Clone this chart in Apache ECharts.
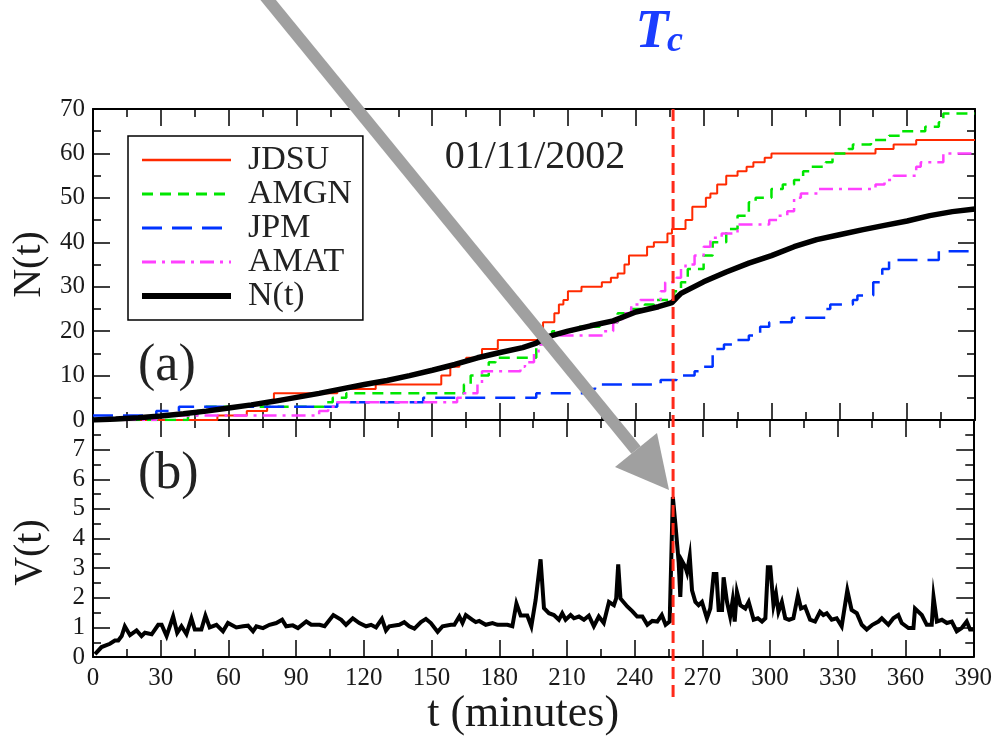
<!DOCTYPE html>
<html><head><meta charset="utf-8">
<script src="https://cdn.jsdelivr.net/npm/echarts@6/dist/echarts.min.js"></script>
<style>html,body{margin:0;padding:0;background:#fff}#c{width:995px;height:737px}</style>
</head><body><div id="c"></div>
<script>
const SERIF = "'Liberation Serif','Times New Roman',serif";

// ---- data ----
const T_TICKS = { min: 0, max: 390, interval: 30 };
const TC = 256.5; // critical time (minutes)
const DATE_LABEL = '01/11/2002';

const JDSU = [[0,0],[55,1],[68,2],[77,4],[80,6],[108,7],[125,8],[154,10],[158,12],[162,13],[165,14],[172,16],[179,18],[197,20],[199,22],[204,24],[206,26],[208,27],[210,29],[216,30],[225,31],[229,32],[232,33],[235,35],[237,37],[245,39],[248,40],[254,42],[256,43],[262,45],[265,48],[271,50],[273,51],[276,53],[280,55],[285,56],[289,57],[292,58],[297,59],[300,60],[346,61],[354,62],[364,63],[390,63]];

const AMGN = [[0,0],[42,1],[46,2],[49,3],[102,4],[106,5],[112,6],[164,8],[167,10],[175,13],[178,14],[196,17],[198,19],[203,20],[215,21],[224,22],[232,24],[236,25],[244,26],[248,27],[257,29],[260,31],[263,34],[270,37],[274,40],[280,43],[285,46],[290,49],[293,50],[300,52],[305,53],[310,54],[314,56],[317,57],[324,58],[327,60],[334,61],[336,62],[344,63],[352,64],[357,65],[368,66],[374,67],[376,69],[390,69]];

const JPM = [[0,1],[28,2],[38,3],[108,4],[146,5],[196,6],[218,7],[222,8],[251,9],[258,10],[266,11],[270,12],[274,16],[279,17],[284,18],[290,19],[295,21],[299,22],[309,23],[324,25],[326,26],[336,27],[338,28],[345,31],[349,34],[352,36],[374,38],[390,38]];

const AMAT = [[0,0],[28,1],[100,2],[104,3],[108,4],[161,5],[164,6],[170,8],[172,11],[189,12],[191,13],[195,15],[197,17],[199,19],[226,20],[230,22],[234,24],[238,26],[242,27],[251,29],[253,31],[258,32],[260,34],[262,35],[266,37],[270,39],[273,41],[278,42],[285,44],[299,45],[303,46],[307,47],[310,50],[313,51],[321,52],[346,53],[350,54],[354,55],[364,57],[366,58],[376,60],[390,60]];

const NT = [[0,0],[10,0.2],[20,0.5],[30,0.9],[40,1.4],[50,2.0],[60,2.7],[70,3.4],[80,4.2],[90,5.1],[100,6.0],[110,7.0],[120,8.0],[130,8.9],[140,10.0],[150,11.2],[160,12.5],[170,14.0],[180,15.2],[190,16.3],[196,17.3],[200,18.6],[210,20.0],[220,21.2],[230,22.3],[240,24.3],[250,25.5],[256,26.4],[258,27.5],[260,28.5],[270,31.1],[280,33.3],[290,35.3],[300,37.0],[310,39.0],[320,40.6],[330,41.7],[340,42.8],[350,43.8],[360,44.8],[370,46.0],[380,46.9],[390,47.5]];

const VT = [[0.9,0.1],[3.8,0.34],[7.5,0.45],[9.7,0.56],[11.2,0.56],[12.7,0.71],[14.1,1.04],[16.4,0.74],[19.3,0.9],[21.5,0.71],[23,0.82],[26,0.77],[28.9,1.09],[30.4,1.09],[32.6,0.71],[35.5,1.37],[37.3,0.82],[39.2,1.04],[41.4,0.78],[43.6,1.31],[45.1,0.93],[48,0.93],[49.8,1.4],[51.7,1.0],[54.7,1.09],[57.6,0.87],[59.8,1.15],[63.5,1.0],[66.5,1.04],[68.7,1.06],[70.9,0.87],[72.4,1.04],[75.3,0.98],[78.2,1.09],[81.2,1.15],[83.8,1.26],[85.6,1.04],[88.5,1.07],[90.8,0.98],[94.5,1.2],[96.7,1.09],[100.4,1.09],[102.6,1.04],[106.5,1.42],[110,1.26],[112.1,1.09],[115.1,1.31],[118,1.15],[121,1.04],[123.2,1.09],[125.4,1.0],[128,1.29],[129.8,0.9],[131.3,1.04],
[132,1.09],[135.7,1.09],[137.9,1.18],[140.1,1.04],[142.4,0.96],[145.3,1.18],[147.5,1.29],[149.7,1.15],[152.7,0.85],[154.9,1.04],[158.6,1.09],[160.1,1.09],[162.3,1.37],[163.7,1.15],[165.2,1.42],[168.1,1.26],[169.6,1.18],[171.1,1.22],[174,1.09],[177,1.15],[179.2,1.09],[181.4,1.09],[183.6,1.09],[185.8,1.04],[187.6,1.81],[189.5,1.4],[192.4,1.4],[194.2,1.04],[196.1,1.92],[198.3,3.3],[199.8,1.65],[202,1.48],[204.2,1.42],[206.4,1.26],[207.9,1.48],[209.4,1.26],[211.6,1.42],[213.1,1.31],[215.3,1.37],[217.5,1.26],[219.7,1.4],[221.9,1.04],[224.1,1.37],[226.3,1.15],[228.6,1.86],[230.8,1.75],[231.8,1.98],[232.7,3.13],[233.7,1.98],[236.7,1.71],[238.9,1.55],[241.1,1.37],[243.4,1.37],[245.6,1.09],[247.8,1.22],[250,1.2],[252,1.42],[253.7,1.09],[255.5,1.2],
[256.9,5.4],[258,4.51],[259.5,3.19],[260.2,2.03],[260.9,3.25],[262.5,3.03],[263.2,2.86],[264.4,3.4],[265.4,2.25],[266.9,1.86],[268.3,1.75],[269.8,1.86],[272,1.31],[273.5,1.64],[275,2.8],[276.2,2.8],[277.2,1.59],[278.7,1.59],[279.4,2.69],[280.9,1.86],[282.3,1.37],[283.4,1.92],[284.3,1.2],[285.3,2.2],[286.8,1.75],[289,1.64],[290.5,1.86],[292.7,1.26],[294.6,1.31],[296.4,1.2],[297.9,1.31],[299,3.03],[300.1,3.03],[301.5,1.75],[302.6,2.14],[303.7,1.53],[305.2,1.86],[306.7,1.31],[308.4,1.26],[310.3,1.31],[312.3,2.08],[313.7,1.64],[315.5,1.7],[317.7,1.26],[319.9,1.2],[322.1,1.53],[323.6,1.42],[325.1,1.48],[327.3,1.26],[329.5,1.31],[331.7,1.04],[334.2,2.25],[336.1,1.59],[338.4,1.48],[340.6,1.09],[342.8,0.93],[345.3,1.09],[348,1.2],[349.5,1.31],[352.4,1.09],[354.6,1.31],[356.8,1.42],[358.3,1.15],[361.3,0.98],[363.5,0.98],[364.2,1.64],[367.2,1.42],[369.4,1.09],[371.6,1.09],[372.4,2.03],[373.9,1.2],[376.1,1.26],[378.3,1.15],[380.5,1.2],[382.7,0.87],[384.9,0.98],[387.1,1.2],[388.6,0.93],[390,0.93]];

// ---- chart ----
const chart = echarts.init(document.getElementById('c'), null, { renderer: 'canvas' });
const LBL = { fontFamily: SERIF, fontSize: 25, color: '#1a1a1a' };
const tick = { show: true, inside: true, length: 17, lineStyle: { color: '#000', width: 1.5 } };
const minor = { show: true, splitNumber: 2, length: 8, lineStyle: { color: '#000', width: 1.5 } };
const aline = { show: true, onZero: false, lineStyle: { color: '#000', width: 2 } };

function xAx(grid, pos, labels, extra) {
  return Object.assign({
    type: 'value', gridIndex: grid, position: pos, min: T_TICKS.min, max: T_TICKS.max, interval: T_TICKS.interval,
    axisLine: aline, axisTick: tick, minorTick: minor, splitLine: { show: false },
    axisLabel: Object.assign({ show: labels, margin: 9 }, LBL)
  }, extra || {});
}
function yAx(grid, pos, labels, max, interval, extra) {
  return Object.assign({
    type: 'value', gridIndex: grid, position: pos, min: 0, max: max, interval: interval,
    axisLine: aline, axisTick: tick, minorTick: minor, splitLine: { show: false },
    axisLabel: Object.assign({ show: labels, margin: 8 }, LBL)
  }, extra || {});
}

const option = {
  animation: false,
  backgroundColor: '#fff',
  grid: [
    { left: 93, top: 109, width: 882, height: 311 },
    { left: 93, top: 420, width: 882, height: 243 }
  ],
  xAxis: [
    xAx(0, 'bottom', false),
    xAx(0, 'top', false),
    xAx(1, 'bottom', true, {
      name: 't (minutes)', nameLocation: 'middle', nameGap: 30,
      nameTextStyle: { fontFamily: SERIF, fontSize: 44, color: '#1a1a1a', padding: [0, 20, 0, 0] }
    }),
    xAx(1, 'top', false)
  ],
  yAxis: [
    yAx(0, 'left', true, 70, 10, {
      name: 'N(t)', nameLocation: 'middle', nameGap: 43, nameRotate: 90,
      nameTextStyle: { fontFamily: SERIF, fontSize: 40, color: '#1a1a1a' }
    }),
    yAx(0, 'right', false, 70, 10),
    yAx(1, 'left', true, 8, 1, {
      name: 'V(t)', nameLocation: 'middle', nameGap: 43, nameRotate: 90,
      nameTextStyle: { fontFamily: SERIF, fontSize: 40, color: '#1a1a1a', padding: [0, 28, 0, 0] },
      axisLabel: Object.assign({ show: true, margin: 8, formatter: v => (v === 8 ? '' : String(v)) }, LBL)
    }),
    yAx(1, 'right', false, 8, 1)
  ],
  legend: {
    orient: 'vertical', left: 128, top: 136,
    padding: [7, 11, 7, 11], borderColor: '#000', borderWidth: 1.5,
    itemWidth: 89, itemHeight: 14, itemGap: 0,
    itemStyle: { opacity: 0 },
    textStyle: { fontFamily: SERIF, fontSize: 34, color: '#222', lineHeight: 33.5, padding: [0, 0, 0, 12] },
    data: [
      { name: 'JDSU', lineStyle: { width: 2.5 } },
      { name: 'AMGN', lineStyle: { width: 3 } },
      { name: 'JPM', lineStyle: { width: 3 } },
      { name: 'AMAT', lineStyle: { width: 3 } },
      { name: 'N(t)', lineStyle: { width: 6 } }
    ]
  },
  series: [
    { name: 'JDSU', type: 'line', xAxisIndex: 0, yAxisIndex: 0, data: JDSU, step: 'end', symbol: 'none', color: '#ff2a00', lineStyle: { width: 2 } },
    { name: 'AMGN', type: 'line', xAxisIndex: 0, yAxisIndex: 0, data: AMGN, step: 'end', symbol: 'none', color: '#00e600', lineStyle: { width: 2.5, type: [11, 7] } },
    { name: 'JPM', type: 'line', xAxisIndex: 0, yAxisIndex: 0, data: JPM, step: 'end', symbol: 'none', color: '#0033ff', lineStyle: { width: 2.5, type: [20, 10] } },
    { name: 'AMAT', type: 'line', xAxisIndex: 0, yAxisIndex: 0, data: AMAT, step: 'end', symbol: 'none', color: '#ff40ff', lineStyle: { width: 2.5, type: [14, 6, 3, 6] } },
    { name: 'N(t)', type: 'line', xAxisIndex: 0, yAxisIndex: 0, data: NT, symbol: 'none', color: '#000', lineStyle: { width: 5.5 } },
    { name: 'V(t)', type: 'line', xAxisIndex: 2, yAxisIndex: 2, data: VT, symbol: 'none', color: '#000', lineStyle: { width: 4, join: 'miter' } }
  ]
};
chart.setOption(option);

// ---- annotations ----
const tcX = chart.convertToPixel({ xAxisIndex: 0 }, TC);
chart.setOption({
  graphic: [
    { type: 'line', z: 100, shape: { x1: tcX, y1: 109, x2: tcX, y2: 702 }, style: { stroke: '#ff2a1a', lineWidth: 3, lineDash: [12, 6] } },
    { type: 'line', z: 90, shape: { x1: 260, y1: -10, x2: 636, y2: 450 }, style: { stroke: '#a0a0a0', lineWidth: 12 } },
    { type: 'polygon', z: 90, shape: { points: [[669, 490], [657, 433], [615, 467]] }, style: { fill: '#a0a0a0' } },
    { type: 'text', z: 95, style: { text: 'T', x: 652, y: 33, align: 'center', verticalAlign: 'middle', font: 'italic bold 54px ' + SERIF, fill: '#1a3dff' } },
    { type: 'text', z: 95, style: { text: 'c', x: 675, y: 42, align: 'center', verticalAlign: 'middle', font: 'italic bold 36px ' + SERIF, fill: '#1a3dff' } },
    { type: 'text', z: 95, style: { text: DATE_LABEL, x: 535, y: 157, align: 'center', verticalAlign: 'middle', font: '40px ' + SERIF, fill: '#222' } },
    { type: 'text', z: 95, style: { text: '(a)', x: 138, y: 366, align: 'left', verticalAlign: 'middle', font: '52px ' + SERIF, fill: '#222' } },
    { type: 'text', z: 95, style: { text: '(b)', x: 138, y: 474, align: 'left', verticalAlign: 'middle', font: '52px ' + SERIF, fill: '#222' } }
  ]
});
</script></body></html>
